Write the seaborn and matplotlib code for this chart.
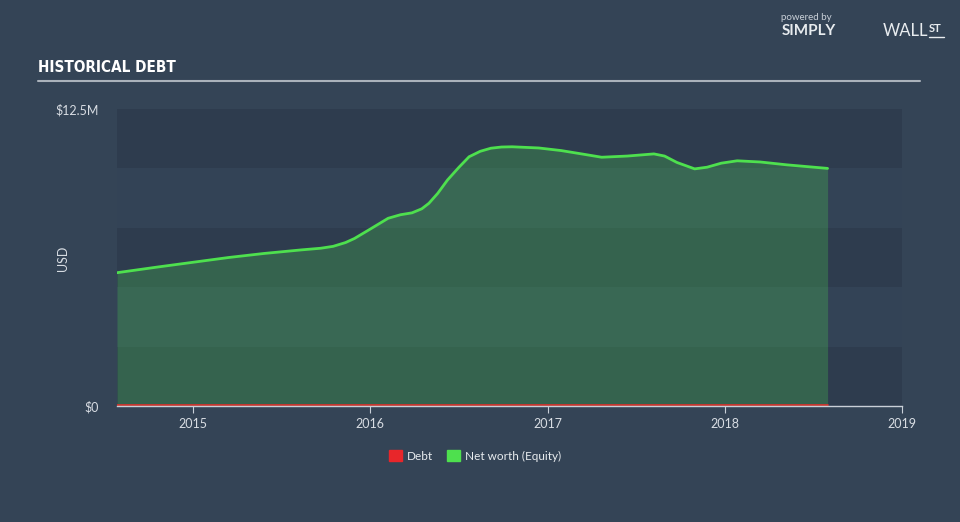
import matplotlib
matplotlib.use("Agg")
import matplotlib.pyplot as plt
import seaborn as sns
import pandas as pd
import numpy as np

# ---- data (decimal years, USD millions) ----
years = [2014.57, 2014.8, 2015.0, 2015.2, 2015.4, 2015.61, 2015.72, 2015.79, 2015.86, 2015.91, 2016.0,
         2016.10, 2016.17, 2016.235, 2016.29, 2016.33, 2016.38, 2016.435, 2016.5, 2016.557, 2016.62,
         2016.68, 2016.74, 2016.80, 2016.95, 2017.077, 2017.2, 2017.305, 2017.45, 2017.6, 2017.66,
         2017.73, 2017.83, 2017.9, 2017.98, 2018.07, 2018.2, 2018.35, 2018.58]
equity = [5.61, 5.85, 6.05, 6.25, 6.42, 6.57, 6.64, 6.72, 6.88, 7.05, 7.45,
          7.9, 8.05, 8.13, 8.3, 8.53, 8.95, 9.51, 10.05, 10.49, 10.72,
          10.85, 10.9, 10.91, 10.86, 10.75, 10.6, 10.47, 10.52, 10.61, 10.52,
          10.25, 9.98, 10.05, 10.22, 10.32, 10.27, 10.15, 10.0]
debt = [0.05] * len(years)
x_ticks = [2015, 2016, 2017, 2018, 2019]
x_labels = ["2015", "2016", "2017", "2018", "2019"]
y_ticks = [0, 12.5]
y_labels = ["$0", "$12.5M"]

df = pd.DataFrame({"year": years, "equity": equity, "debt": debt})

BG = "#344456"
sns.set_theme(style="dark")
plt.rcParams['font.family'] = ['Lato', 'DejaVu Sans']

fig = plt.figure(figsize=(9.6, 5.22), dpi=100, facecolor=BG)
ax = fig.add_axes([117/960, 1-406/522, 785/960, 297/522])
ax.set_facecolor(BG)

band_dark = "#2e3c4e"
band_light = "#334356"
for i in range(5):
    ax.axhspan(i*2.5, (i+1)*2.5, color=band_dark if i % 2 == 0 else band_light, lw=0, zorder=0)

ax.fill_between(df["year"], 0, df["equity"], color="#4ee04e", alpha=0.24, lw=0, zorder=1)
sns.lineplot(data=df, x="year", y="equity", ax=ax, color="#4ee04e", lw=2, zorder=3)
sns.lineplot(data=df, x="year", y="debt", ax=ax, color="#e0302a", lw=1.2, zorder=2)

ax.set_xlim(2014.57, 2019.0)
ax.set_ylim(0, 12.5)
ax.set_xticks(x_ticks)
ax.set_xticklabels(x_labels, color="#d8dde3", fontsize=9)
ax.set_yticks(y_ticks)
ax.set_yticklabels(y_labels, color="#d8dde3", fontsize=9)
ax.tick_params(axis="x", length=5, width=0.8, color="#c9d0d8", pad=4, bottom=True)
ax.tick_params(axis="y", length=0, pad=13)
ax.set_xlabel("")
ax.set_ylabel("")
ax.grid(False)
for s in ["top", "right", "left"]:
    ax.spines[s].set_visible(False)
ax.spines["bottom"].set_color("#c9d0d8")
ax.spines["bottom"].set_linewidth(1)

fig.text(63/960, 1-258/522, "USD", color="#d8dde3", fontsize=9, rotation=90, va="center", ha="center")

# title and rule
fig.text(38/960, 1-68/522, "HISTORICAL DEBT", color="white", fontsize=11, fontweight="bold",
         family="DejaVu Sans", fontstretch="condensed", va="center", ha="left")
fig.add_artist(plt.Line2D([38/960, 920/960], [1-81/522, 1-81/522], color="#aab2bb", lw=1.5))

# branding
fig.text(806/960, 1-17/522, "powered by", color="#c9d0d8", fontsize=7, va="center", ha="center")
fig.text(809/960, 1-31/522, "SIMPLY", color="#e8ecef", fontsize=11, fontweight="bold", va="center", ha="center")
fig.text(928/960, 1-31/522, "WALL", color="#e8ecef", fontsize=12, va="center", ha="right")
fig.text(929/960, 1-29/522, "ST", color="#e8ecef", fontsize=8, fontweight="bold", va="center", ha="left")
fig.add_artist(plt.Line2D([929/960, 944/960], [1-37/522, 1-37/522], color="#e8ecef", lw=1))

# legend
from matplotlib.patches import Patch
handles = [Patch(color="#e8262a", label="Debt"), Patch(color="#4ee04e", label="Net worth (Equity)")]
leg = fig.legend(handles=handles, loc="center", bbox_to_anchor=(475/960, 1-456/522), ncol=2,
                 frameon=False, fontsize=8.5, handlelength=1.1, handleheight=1.1,
                 handletextpad=0.4, columnspacing=1.2)
for t in leg.get_texts():
    t.set_color("#e8ecef")

fig.savefig("out.png", dpi=100, facecolor=BG)
